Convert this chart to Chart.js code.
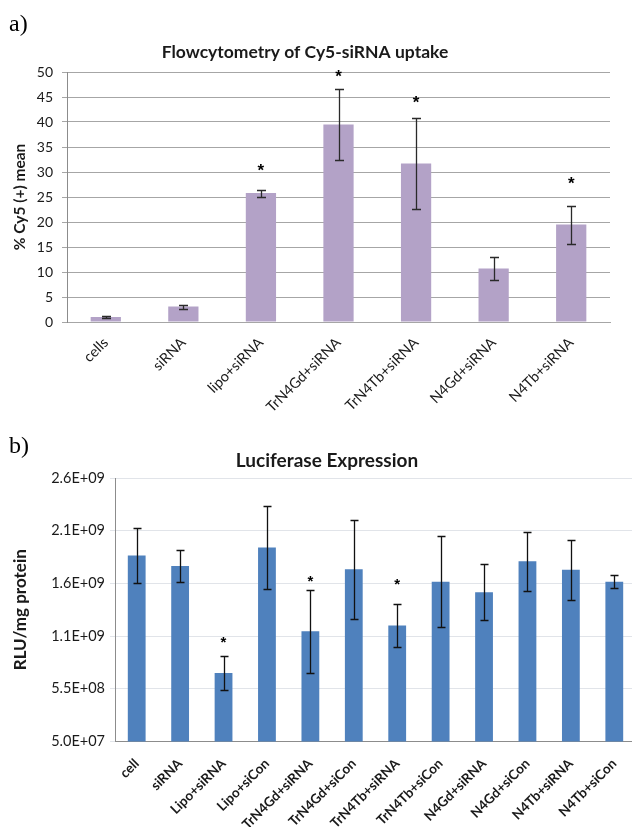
<!DOCTYPE html>
<html>
<head>
<meta charset="utf-8">
<script src="https://cdn.jsdelivr.net/npm/chart.js@4/dist/chart.umd.min.js"></script>
<style>
  html, body { margin: 0; padding: 0; background: #fff; width: 632px; height: 827px; overflow: hidden; position: relative; }
  .wrap { position: absolute; left: 0; overflow: hidden; width: 632px; }
  #wrapA { top: 0; height: 430px; }
  #wrapB { top: 430px; height: 397px; }
  .panel { position: absolute; left: 9px; font-family: "Liberation Serif", "Times New Roman", serif; font-size: 24px; color: #000; line-height: 1; }
</style>
</head>
<body>
<div id="wrapA" class="wrap"><canvas id="flow" width="632" height="430"></canvas></div>
<div id="wrapB" class="wrap"><canvas id="luc" width="660" height="397"></canvas></div>
<div class="panel" style="top:11px">a)</div>
<div class="panel" style="top:433px">b)</div>
<script>
// ---- a) Flow cytometry of Cy5-siRNA uptake ----
const flowLabels = ['cells', 'siRNA', 'lipo+siRNA', 'TrN4Gd+siRNA', 'TrN4Tb+siRNA', 'N4Gd+siRNA', 'N4Tb+siRNA'];
const flowMean   = [1.0, 3.1, 25.8, 39.5, 31.7, 10.7, 19.5];
const flowErr    = [0.2, 0.4, 0.7, 7.1, 9.0, 2.25, 3.8];
const flowStars  = [null, null, 31.0, 49.8, 44.5, null, 28.3];

// ---- b) Luciferase expression ----
const lucLabels = ['cell', 'siRNA', 'Lipo+siRNA', 'Lipo+siCon', 'TrN4Gd+siRNA', 'TrN4Gd+siCon',
                   'TrN4Tb+siRNA', 'TrN4Tb+siCon', 'N4Gd+siRNA', 'N4Gd+siCon', 'N4Tb+siRNA', 'N4Tb+siCon'];
const lucMean  = [1.815e9, 1.715e9, 0.70e9, 1.89e9, 1.095e9, 1.685e9, 1.15e9, 1.565e9, 1.465e9, 1.76e9, 1.68e9, 1.565e9];
const lucErr   = [0.265e9, 0.155e9, 0.165e9, 0.39e9, 0.395e9, 0.47e9, 0.20e9, 0.43e9, 0.265e9, 0.28e9, 0.285e9, 0.06e9];
const lucStars = [null, null, 1.01e9, null, 1.59e9, null, 1.56e9, null, null, null, null, null];
const lucTicks = ['5.0E+07', '5.5E+08', '1.1E+09', '1.6E+09', '2.1E+09', '2.6E+09'];

const FONT = 'Lato, "Open Sans", sans-serif';
const TEXT = '#1a1a1a';

// error bars, significance stars and chart heading
const annotate = {
  id: 'annotate',
  afterDatasetsDraw(chart, args, o) {
    const ctx = chart.ctx, x = chart.scales.x, y = chart.scales.y;
    ctx.save();
    ctx.strokeStyle = o.barColor;
    ctx.lineWidth = o.barWidth;
    o.means.forEach((m, i) => {
      const cx = Math.round(x.getPixelForValue(i)) + 0.5;
      const t = Math.round(y.getPixelForValue(m + o.errs[i])) + 0.5;
      const b = Math.round(y.getPixelForValue(m - o.errs[i])) + 0.5;
      ctx.beginPath();
      ctx.moveTo(cx, t); ctx.lineTo(cx, b);
      ctx.moveTo(cx - o.cap, t); ctx.lineTo(cx + o.cap, t);
      ctx.moveTo(cx - o.cap, b); ctx.lineTo(cx + o.cap, b);
      ctx.stroke();
    });
    ctx.fillStyle = '#000';
    ctx.font = o.starFont;
    ctx.textAlign = 'center';
    ctx.textBaseline = 'alphabetic';
    const mt = ctx.measureText('*');
    const shift = (mt.actualBoundingBoxAscent - mt.actualBoundingBoxDescent) / 2;
    o.stars.forEach((s, i) => {
      if (s == null) return;
      ctx.fillText('*', x.getPixelForValue(i), y.getPixelForValue(s) + shift);
    });
    ctx.fillStyle = TEXT;
    ctx.font = o.titleFont;
    ctx.textBaseline = 'middle';
    ctx.fillText(o.title, o.titleX, o.titleY);
    ctx.restore();
  }
};

new Chart(document.getElementById('flow'), {
  type: 'bar',
  data: {
    labels: flowLabels,
    datasets: [{ data: flowMean, backgroundColor: '#b3a2c7', borderWidth: 0,
                 barPercentage: 0.39, categoryPercentage: 1 }]
  },
  options: {
    responsive: false, animation: false, devicePixelRatio: 1,
    layout: { padding: { top: 72, right: 22, left: 0, bottom: 0 } },
    plugins: {
      legend: { display: false }, tooltip: { enabled: false },
      annotate: { means: flowMean, errs: flowErr, stars: flowStars, cap: 4.5,
                  barColor: '#2a2a2a', barWidth: 1.3, starFont: 'bold 17px "Liberation Sans", Arial, sans-serif',
                  title: 'Flowcytometry of Cy5-siRNA uptake', titleFont: 'bold 17.5px ' + FONT,
                  titleX: 305, titleY: 52 }
    },
    scales: {
      x: {
        grid: { display: false },
        border: { color: '#a6a6a6' },
        ticks: { color: TEXT, font: { family: FONT, size: 14.5 }, minRotation: 45, maxRotation: 45,
                 autoSkip: false, padding: 4 },
        afterFit(s) { s.height = 108; }
      },
      y: {
        min: 0, max: 50,
        grid: { color: '#a6a6a6', tickLength: 5 },
        border: { color: '#8c8c8c' },
        ticks: { stepSize: 5, color: TEXT, font: { family: FONT, size: 14 }, padding: 9 },
        title: { display: true, text: '% Cy5 (+) mean', color: TEXT,
                 font: { family: FONT, size: 15.5, weight: 'bold' }, padding: { top: 11, bottom: 0 } },
        afterFit(s) { s.width = 67; }
      }
    }
  },
  plugins: [annotate]
});

new Chart(document.getElementById('luc'), {
  type: 'bar',
  data: {
    labels: lucLabels,
    datasets: [{ data: lucMean, backgroundColor: '#4f81bd', borderWidth: 0,
                 barPercentage: 0.41, categoryPercentage: 1 }]
  },
  options: {
    responsive: false, animation: false, devicePixelRatio: 1,
    layout: { padding: { top: 48, right: 24, left: 0, bottom: 0 } },
    plugins: {
      legend: { display: false }, tooltip: { enabled: false },
      annotate: { means: lucMean, errs: lucErr, stars: lucStars, cap: 4,
                  barColor: '#111', barWidth: 1.3, starFont: 'bold 15px "Liberation Sans", Arial, sans-serif',
                  title: 'Luciferase Expression', titleFont: 'bold 19px ' + FONT,
                  titleX: 327, titleY: 31 }
    },
    scales: {
      x: {
        grid: { display: false },
        border: { color: '#8c8c8c' },
        ticks: { color: TEXT, font: { family: FONT, size: 13.5, weight: 'bold' }, minRotation: 45, maxRotation: 45,
                 autoSkip: false, padding: 6 },
        afterFit(s) { s.height = 85.5; }
      },
      y: {
        min: 5e7, max: 2.55e9,
        grid: { color: '#e1e4e9', tickLength: 5 },
        border: { color: '#8c8c8c' },
        ticks: { stepSize: 5e8, color: TEXT, font: { family: FONT, size: 14.5 }, padding: 5,
                 callback: (v, i) => lucTicks[i] },
        title: { display: true, text: 'RLU/mg protein', color: TEXT,
                 font: { family: FONT, size: 17, weight: 'bold' }, padding: { top: 10, bottom: 0 } },
        afterFit(s) { s.width = 115; }
      }
    }
  },
  plugins: [annotate]
});
</script>
</body>
</html>
